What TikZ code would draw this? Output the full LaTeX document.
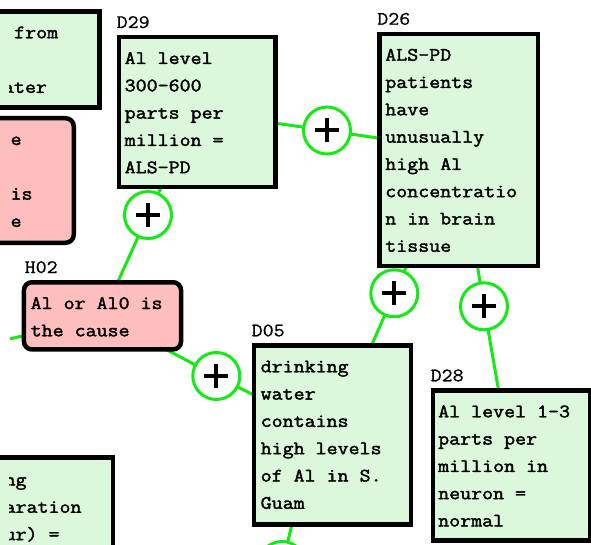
\documentclass[tikz,border=0pt]{standalone}
\usepackage{fontspec}
\newfontfamily\boxfont[FakeStretch=1.123, FakeBold=2]{Latin Modern Mono}
\newfontfamily\tagfont[FakeStretch=1.123, FakeBold=0.8]{Latin Modern Mono}
\definecolor{notegreen}{RGB}{220,248,220}
\definecolor{notered}{RGB}{255,190,190}
\definecolor{linkgreen}{RGB}{20,235,20}
\newcommand\topstrut{\rule{0pt}{13bp}}
\pgfdeclarelayer{links}
\pgfsetlayers{links,main}
\tikzset{
  box/.style={draw=black, line width=4.5bp, fill=notegreen, inner sep=0pt, outer sep=0pt},
  hyp/.style={box, fill=notered, rounded corners=8bp},
  txt/.style={anchor=north west, inner sep=0pt, outer sep=0pt, align=left,
    font=\boxfont\fontsize{19bp}{27.3bp}\selectfont},
  frag/.style={anchor=base west, inner sep=0pt, outer sep=0pt,
    font=\boxfont\fontsize{19bp}{27.3bp}\selectfont},
  tag/.style={anchor=base west, inner sep=0pt, outer sep=0pt,
    font=\tagfont\fontsize{19bp}{27.3bp}\selectfont},
  link/.style={draw=linkgreen, line width=3bp},
  joint/.style={circle, draw=linkgreen, line width=3bp, fill=white,
    minimum size=47bp, inner sep=0pt, outer sep=0pt,
    path picture={\draw[black, line width=4bp]
      ([xshift=-12bp]path picture bounding box.center) -- ([xshift=12bp]path picture bounding box.center)
      ([yshift=-12bp]path picture bounding box.center) -- ([yshift=12bp]path picture bounding box.center);}},
}
\begin{document}
\begin{tikzpicture}[x=1bp, y=-1bp]
\useasboundingbox (0,0) rectangle (591,545);
\clip (0,0) rectangle (591,545);

% boxes running off the left edge
\node[box, minimum width=157.2bp, minimum height=96.2bp] (Dtl) at (20.85,59.65) {};
\node[hyp, minimum width=157.5bp, minimum height=124.5bp] (Htl) at (-5,180.5) {};
\node[box, minimum width=157.5bp, minimum height=140.5bp] (Dbl) at (34,527.5) {};
\begin{scope}
  \clip (9,0) rectangle (591,545);
  \node[frag] (Dtl1) at (14.2,38.3) {from};
  \node[frag] (Dtl3) at (3.0,92.9) {ater};
  \node[frag] (Htl1) at (10.6,145) {e};
  \node[frag] (Htl3) at (10.6,199.6) {is};
  \node[frag] (Htl4) at (10.6,226.9) {e};
  \node[frag] (Dbl1) at (4.6,485.5) {ng};
  \node[frag] (Dbl2) at (4.6,512.8) {aration};
  \node[frag] (Dbl3) at (4.6,540.1) {ur) =};
\end{scope}

% D29
\node[box, minimum width=156.5bp, minimum height=149.8bp] (D29) at (197.2,112.15) {};
\node[txt] (D29t) at ([shift={(5.75,13.75)}]D29.north west)
  {\topstrut Al level\\300-600\\parts per\\million =\\ALS-PD};
\node[tag] (D29l) at ([shift={(-2.25,-9.25)}]D29.north west) {D29};

% D26
\node[box, minimum width=158.2bp, minimum height=232.1bp] (D26) at (458.65,150) {};
\node[txt] (D26t) at ([shift={(5.75,13.75)}]D26.north west)
  {\topstrut ALS-PD\\patients\\have\\unusually\\high Al\\concentratio\\n in brain\\tissue};
\node[tag] (D26l) at ([shift={(-2.25,-9.25)}]D26.north west) {D26};

% H02
\node[hyp, minimum width=157.1bp, minimum height=67.2bp] (H02) at (102.5,315.85) {};
\node[txt] (H02t) at ([shift={(6.75,13.75)}]H02.north west)
  {\topstrut Al or Al0 is\\the cause};
\node[tag] (H02l) at ([shift={(0.75,-9.25)}]H02.north west) {H02};

% D05
\node[box, minimum width=157.1bp, minimum height=178.9bp] (D05) at (332.5,435) {};
\node[txt] (D05t) at ([shift={(6.75,13.75)}]D05.north west)
  {\topstrut drinking\\water\\contains\\high levels\\of Al in S.\\Guam};
\node[tag] (D05l) at ([shift={(-2.25,-9.25)}]D05.north west) {D05};

% D28
\node[box, minimum width=157.3bp, minimum height=149.7bp] (D28) at (511.6,465.4) {};
\node[txt] (D28t) at ([shift={(5.25,13.75)}]D28.north west)
  {\topstrut Al level 1-3\\parts per\\million in\\neuron =\\normal};
\node[tag] (D28l) at ([shift={(-2.25,-9.25)}]D28.north west) {D28};

% supporting links
\node[joint] (c1) at (327,130.5) {};
\node[joint] (c2) at (148,215) {};
\node[joint] (c3) at (216.3,376) {};
\node[joint] (c4) at (394.3,293.3) {};
\node[joint] (c5) at (484,306.3) {};
\node[joint] (c6) at (282,565) {};
\coordinate (stub) at (10,339);

\begin{pgfonlayer}{links}
  \draw[link] (D29) -- (c1);
  \draw[link] (c1) -- (D26);
  \draw[link] (D29) -- (c2);
  \draw[link] (c2) -- (H02);
  \draw[link] (H02) -- (c3);
  \draw[link] (c3) -- (D05);
  \draw[link] (D05) -- (c4);
  \draw[link] (c4) -- (D26);
  \draw[link] (D26) -- (c5);
  \draw[link] (c5) -- (D28);
  \draw[link] ([xshift=-40.5bp]D05.south) -- (c6);
  \draw[link] (stub) -- (H02);
\end{pgfonlayer}
\end{tikzpicture}
\end{document}
